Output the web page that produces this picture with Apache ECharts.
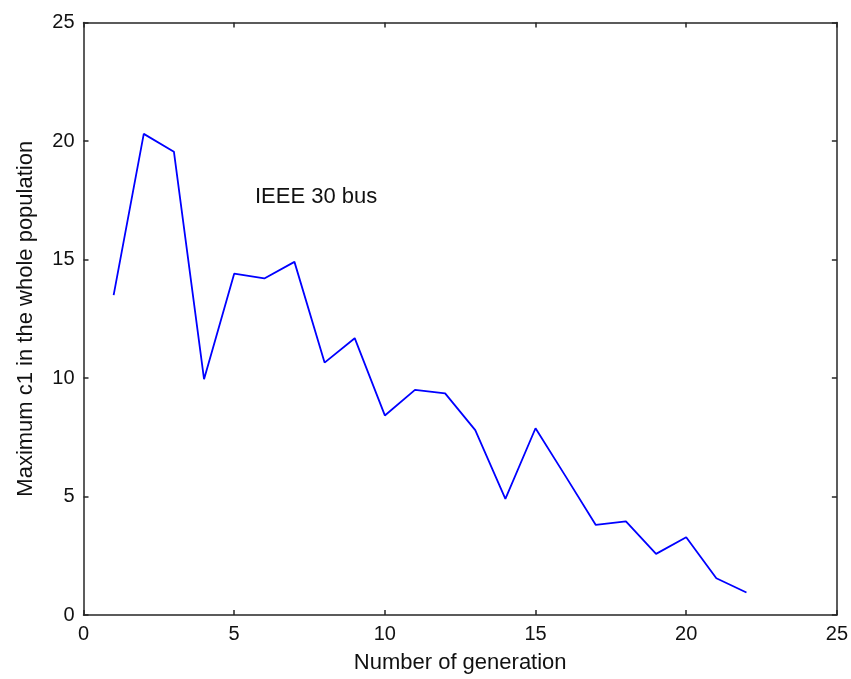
<!DOCTYPE html>
<html>
<head>
<meta charset="utf-8">
<script src="https://cdn.jsdelivr.net/npm/echarts@6/dist/echarts.min.js"></script>
<style>html,body{margin:0;padding:0;background:#fff;}#c{width:851px;height:679px;}</style>
</head>
<body>
<div id="c"></div>
<script>
var generations = [1,2,3,4,5,6,7,8,9,10,11,12,13,14,15,16,17,18,19,20,21,22];
var maxC1 = [13.5,20.3,19.55,9.95,14.4,14.2,14.9,10.65,11.68,8.42,9.5,9.35,7.8,4.9,7.88,5.85,3.8,3.95,2.58,3.28,1.55,0.95];
var xTicks = [0,5,10,15,20,25];
var yTicks = [0,5,10,15,20,25];
var annotation = "IEEE 30 bus";

var font = "'Liberation Sans', Arial, sans-serif";
var axisCol = '#262626';
var chart = echarts.init(document.getElementById('c'));
var baseAxis = {
  min: 0, max: 25, interval: 5,
  axisLine: {show: true, onZero: false, lineStyle: {color: axisCol, width: 1.5}},
  axisTick: {show: true, inside: true, length: 5, lineStyle: {color: axisCol, width: 1.5}},
  splitLine: {show: false}
};
chart.setOption({
  animation: false,
  grid: {left: 83.5, top: 22.5, right: 11, bottom: 62.5, containLabel: false},
  xAxis: [
    Object.assign({}, baseAxis, {type: 'value', position: 'bottom',
      name: 'Number of generation', nameLocation: 'middle', nameGap: 37,
      nameTextStyle: {fontFamily: font, fontSize: 22, color: '#111'},
      axisLabel: {show: true, margin: 9, fontFamily: font, fontSize: 20, color: '#111',
        formatter: function(v){ return xTicks.indexOf(v) >= 0 ? String(v) : ''; }}}),
    Object.assign({}, baseAxis, {type: 'value', position: 'top', axisLabel: {show: false}})
  ],
  yAxis: [
    Object.assign({}, baseAxis, {type: 'value', position: 'left',
      name: 'Maximum c1 in the whole population', nameLocation: 'middle', nameGap: 47,
      nameTextStyle: {fontFamily: font, fontSize: 22, color: '#111'},
      axisLabel: {show: true, margin: 9, fontFamily: font, fontSize: 20, color: '#111',
        formatter: function(v){ return yTicks.indexOf(v) >= 0 ? String(v) : ''; }}}),
    Object.assign({}, baseAxis, {type: 'value', position: 'right', axisLabel: {show: false}})
  ],
  graphic: [{type: 'text', left: 255, top: 186,
    style: {text: annotation, font: '22px ' + font, fill: '#111'}}],
  series: [{
    type: 'line', xAxisIndex: 0, yAxisIndex: 0,
    data: generations.map(function(g, i){ return [g, maxC1[i]]; }),
    showSymbol: false, symbol: 'none',
    lineStyle: {color: '#0000ff', width: 1.8}
  }]
});
</script>
</body>
</html>
